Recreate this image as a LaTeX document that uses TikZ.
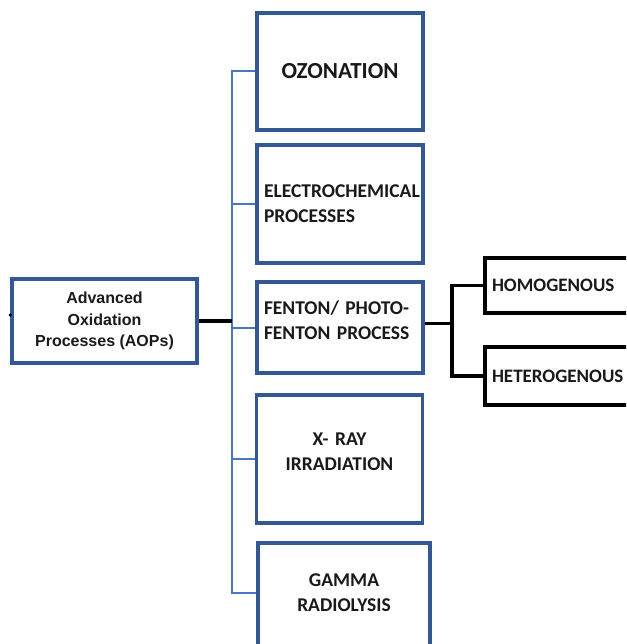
\documentclass[tikz,border=0pt]{standalone}
\usepackage{fontspec}
\setmainfont{Carlito}
\newfontfamily\aopfont{Liberation Sans}
\usetikzlibrary{positioning}
\definecolor{boxblue}{RGB}{52,88,148}
\definecolor{linkblue}{RGB}{74,120,190}
\tikzset{
  procbox/.style={draw=boxblue, line width=3.4pt, minimum width=166pt, inner xsep=7pt, inner ysep=0pt,
                  text width=152pt, text=black!90, font=\bfseries\fontsize{19.5}{25}\selectfont},
  kindbox/.style={draw, line width=3.8pt, minimum width=155pt, inner xsep=7pt, inner ysep=0pt,
                  text width=141pt, align=left, text=black!90, font=\bfseries\fontsize{19}{25}\selectfont},
  link/.style={draw=linkblue, line width=2pt},
  blk/.style={draw, line width=3.6pt}
}
\begin{document}
\begin{tikzpicture}[x=1pt, y=-1pt]
\useasboundingbox (0,0) rectangle (626,644);
\clip (0,0) rectangle (626,644);
% root
\node[draw=boxblue, line width=3.4pt, minimum width=185pt, minimum height=84pt, align=center, text=black!90,
      font=\aopfont\bfseries\fontsize{16}{21.5}\selectfont] (aop) at (104.5,321)
  {Advanced\\ Oxidation\\ Processes (AOPs)};
% processes
\node[procbox, minimum height=117pt, align=center, font=\bfseries\fontsize{23}{25}\selectfont] (ozon) at (340,71.5) {OZONATION};
\node[procbox, minimum height=118pt, align=left] (elec) at (340,204) {ELECTROCHEMICAL\\ PROCESSES};
\node[procbox, minimum height=91pt, align=left] (fent) at (340,327.5) {FENTON/ PHOTO-\\ FENTON PROCESS\\[-10pt]\mbox{}};
\node[procbox, minimum height=128pt, align=center] (xray) at (339.5,459) {X- RAY\\ IRRADIATION\\[-10pt]\mbox{}};
\node[procbox, minimum width=172pt, text width=158pt, minimum height=107pt, align=center] (gamm) at (344,596.5) {GAMMA\\ RADIOLYSIS\\[-18pt]\mbox{}};
% fenton types
\node[kindbox, minimum height=55pt] (homo) at (562.5,285.5) {HOMOGENOUS};
\node[kindbox, minimum height=58pt] (hete) at (562.5,376) {HETEROGENOUS};
% connectors
\coordinate (trunk) at (232,0);
\coordinate (split) at (452,0);
\draw[link] (ozon.west) -- (ozon.west -| trunk) |- ([yshift=3.5pt]gamm.west);
\foreach \b in {elec,fent,xray}
  \draw[link] (\b.west) -- (\b.west -| trunk);
\draw[blk] (aop.east) -- (aop.east -| trunk);
\fill ([yshift=6pt]aop.west) circle (1.8pt);
\draw[blk] ([yshift=4pt]fent.east) -- ([yshift=4pt]fent.east -| split);
\draw[blk] (homo.west) -- (homo.west -| split) |- (hete.west);
\end{tikzpicture}
\end{document}
